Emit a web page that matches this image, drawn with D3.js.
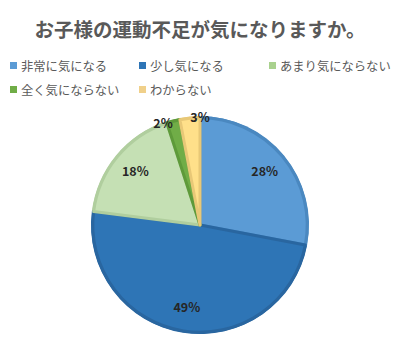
<!DOCTYPE html>
<html>
<head>
<meta charset="utf-8">
<script src="https://cdn.jsdelivr.net/npm/d3@7"></script>
<style>
  body { margin: 0; background: #fff; }
  text { font-family: "Noto Sans CJK JP", "Noto Sans", sans-serif; }
</style>
</head>
<body>
<div id="chart"></div>
<script>
const categories = ["非常に気になる", "少し気になる", "あまり気にならない", "全く気にならない", "わからない"];
const values = [28, 49, 18, 2, 3];
const colors = ["#5B9BD5", "#2E75B6", "#C5E0B4", "#70AD47", "#FFE08A"];
const edgeColors = ["#4A88C0", "#2966A0", "#B0CE9E", "#5E9A3A", "#E8C877"];
const legendColors = ["#5B9BD5", "#2E75B6", "#A9D18E", "#70AD47", "#F0D08A"];
const title = "お子様の運動不足が気になりますか。";

const w = 400, h = 350;
const cx = 200, cy = 225, r = 109;

const svg = d3.select("#chart").append("svg")
  .attr("width", w).attr("height", h);

svg.append("text")
  .attr("x", w / 2).attr("y", 37)
  .attr("text-anchor", "middle")
  .attr("font-size", 19.5)
  .attr("font-weight", "bold")
  .attr("fill", "#595959")
  .text(title);

// legend
const legendPos = [[10, 66], [139, 66], [269, 66], [10, 90], [139, 90]];
const legend = svg.selectAll("g.leg")
  .data(categories)
  .enter().append("g")
  .attr("class", "leg")
  .attr("transform", (d, i) => "translate(" + legendPos[i][0] + "," + legendPos[i][1] + ")");
legend.append("rect")
  .attr("x", 0).attr("y", -4)
  .attr("width", 7).attr("height", 7)
  .attr("fill", (d, i) => legendColors[i]);
legend.append("text")
  .attr("x", 11).attr("y", 4.5)
  .attr("font-size", 12.3)
  .attr("fill", "#595959")
  .text(d => d);

const pie = d3.pie().sort(null).value(d => d);
const arcs = pie(values);

const g = svg.append("g").attr("transform", "translate(" + cx + "," + cy + ")");

const arc = d3.arc().innerRadius(0).outerRadius(r);
const innerArc = d3.arc().innerRadius(0).outerRadius(r - 1.8);

g.selectAll("path.slice")
  .data(arcs)
  .enter().append("path")
  .attr("class", "slice")
  .attr("d", arc)
  .attr("fill", (d, i) => edgeColors[i]);

g.selectAll("path.inner")
  .data(arcs)
  .enter().append("path")
  .attr("class", "inner")
  .attr("d", innerArc)
  .attr("fill", (d, i) => colors[i])
  .attr("stroke", (d, i) => edgeColors[i])
  .attr("stroke-width", 3)
  .attr("stroke-linejoin", "round");

const labelArc = d3.arc().innerRadius(84).outerRadius(84);

// small slices: labels sit on the rim, spread apart so they don't collide
function labelPos(d, i) {
  if (d.data >= 5) return labelArc.centroid(d);
  const a = (i === arcs.length - 1) ? d.endAngle : d.startAngle - 0.035;
  return [Math.sin(a) * 108, -Math.cos(a) * 108];
}

g.selectAll("text.lab")
  .data(arcs)
  .enter().append("text")
  .attr("class", "lab")
  .attr("transform", (d, i) => {
    const c = labelPos(d, i);
    return "translate(" + c[0] + "," + c[1] + ")";
  })
  .attr("dy", "0.36em")
  .attr("text-anchor", "middle")
  .attr("font-size", 12.5)
  .attr("font-weight", "bold")
  .attr("fill", "#262626")
  .text(d => d.data + "%");
</script>
</body>
</html>
